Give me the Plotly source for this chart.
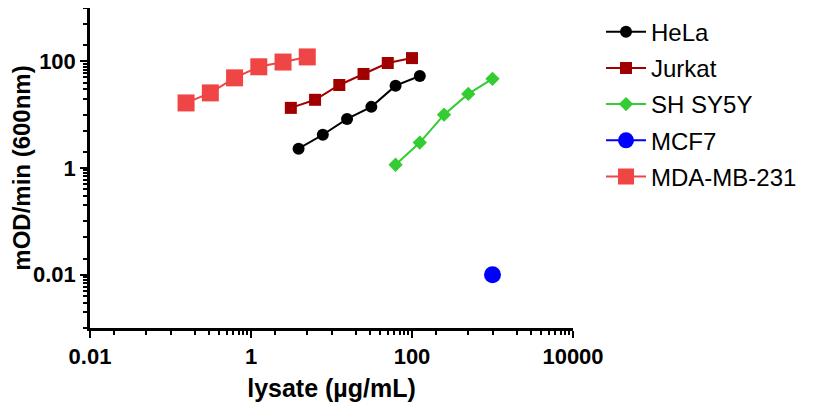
import plotly.graph_objects as go

# ---- data ----
hela_x = [3.9, 7.8, 15.6, 31.25, 62.5, 125]
hela_y = [2.3, 4.2, 8.3, 14, 35, 53]

jurkat_x = [3.125, 6.25, 12.5, 25, 50, 100]
jurkat_y = [13.4, 19, 36, 58, 93, 115]

shsy5y_x = [62.5, 125, 250, 500, 1000]
shsy5y_y = [1.15, 3.0, 10, 24.5, 47]

mcf7_x = [1000]
mcf7_y = [0.01]

mda_x = [0.156, 0.3125, 0.625, 1.25, 2.5, 5]
mda_y = [16.6, 25.6, 49, 79, 97, 121]

x_tickvals = [0.01, 1, 100, 10000]
x_ticktext = ["0.01", "1", "100", "10000"]
y_tickvals = [0.01, 1, 100]
y_ticktext = ["0.01", "1", "100"]

FONT = "Arial, Liberation Sans, sans-serif"

series = [
    ("HeLa", hela_x, hela_y, "#000000", "circle", 12),
    ("Jurkat", jurkat_x, jurkat_y, "#A00000", "square", 12),
    ("SH SY5Y", shsy5y_x, shsy5y_y, "#33CC33", "diamond", 11),
    ("MCF7", mcf7_x, mcf7_y, "#0000FF", "circle", 17),
    ("MDA-MB-231", mda_x, mda_y, "#F04545", "square", 17),
]

fig = go.Figure()
for name, xs, ys, col, sym, sz in series:
    fig.add_trace(go.Scatter(
        x=xs, y=ys, name=name, legendgroup=name,
        mode="lines+markers",
        line=dict(color=col, width=2),
        marker=dict(color=col, symbol=sym, size=sz, line=dict(width=0)),
    ))

def minor_vals(majors_low):
    vals = []
    for lo in majors_low:
        vals += [lo * 2, lo * 5]
        vals += [lo * 10 * k for k in range(1, 10)]
    return vals

x_minor = minor_vals([0.01, 1, 100])
y_minor = [0.001 * k for k in range(1, 10)] + minor_vals([0.01, 1, 100])
y_minor = [v for v in y_minor if v <= 1000]

axis_common = dict(
    showgrid=False, zeroline=False, showline=True,
    linecolor="black", linewidth=2.5,
    ticks="outside", ticklen=7, tickwidth=2, tickcolor="black",
    tickfont=dict(family=FONT, size=22, color="black", weight="bold"),
    mirror=False, automargin=True,
)

fig.update_xaxes(
    type="log", range=[-2, 4],
    tickmode="array", tickvals=x_tickvals, ticktext=x_ticktext,
    minor=dict(tickvals=x_minor, ticks="outside", ticklen=4, tickwidth=2, tickcolor="black"),
    title=dict(text="lysate (µg/mL)", font=dict(family=FONT, size=25, color="black", weight="bold"), standoff=12),
    **axis_common,
)
fig.update_yaxes(
    type="log", range=[-3, 3],
    tickmode="array", tickvals=y_tickvals, ticktext=y_ticktext,
    minor=dict(tickvals=y_minor, ticks="outside", ticklen=4, tickwidth=2, tickcolor="black"),
    title=dict(text="mOD/min (600nm)", font=dict(family=FONT, size=24, color="black", weight="bold"), standoff=14),
    **axis_common,
)

fig.update_layout(
    width=824, height=413,
    margin=dict(l=82, r=259, t=0, b=93, autoexpand=False),
    paper_bgcolor="white", plot_bgcolor="white",
    showlegend=True,
    legend=dict(
        x=1.058, y=0.995, xanchor="left", yanchor="top",
        font=dict(family=FONT, size=24, color="black"),
        tracegroupgap=2, itemwidth=40, bgcolor="rgba(0,0,0,0)",
    ),
)

fig.write_html("out.html")
